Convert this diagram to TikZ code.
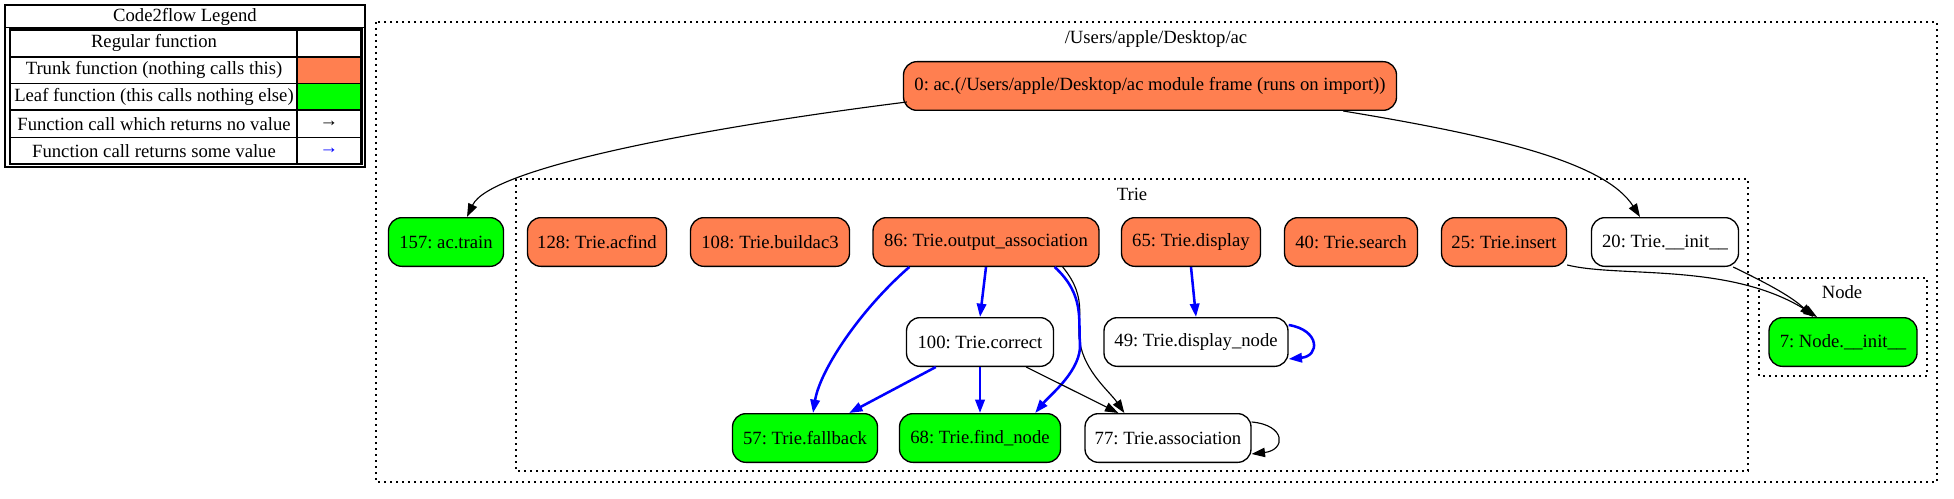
\documentclass[tikz,border=0pt]{standalone}
\usepackage{fontspec}
\setmainfont{Liberation Serif}
\usetikzlibrary{positioning, arrows.meta, calc}
\definecolor{trunk}{HTML}{FF7F50}
\definecolor{leaf}{HTML}{00FF00}
\tikzset{
  fnbox/.style={draw, line width=1pt, rounded corners=10pt, minimum height=36.5pt, inner sep=0pt},
  cluster/.style={draw, line width=1pt, dash pattern=on 1.2pt off 3.3pt},
  callnone/.style={line width=0.85pt, -{Triangle[length=10pt,width=7pt]}},
  callval/.style={line width=1.9pt, blue, -{Triangle[length=10pt,width=7pt]}}
}

\begin{document}
\begin{tikzpicture}[font=\fontsize{14}{16}\selectfont\frenchspacing, x=0.75pt, y=-0.75pt]
  \useasboundingbox (0,0) rectangle (1954,499);
  % legenda
  \fill[trunk] (297,57) rectangle (361,83.5);
  \fill[leaf] (297,83.5) rectangle (361,110);
  \draw[line width=1.6pt] (5,5) rectangle (365,167);
  \draw[line width=1pt] (5,27.5) -- (365,27.5);
  \draw[line width=1.6pt] (10,29.5) rectangle (361.5,164);
  \draw[line width=1pt] (297,29.5) -- (297,164);
  \foreach \yl in {57,83.5,110,137.5}
    \draw[line width=1pt] (10,\yl) -- (361.5,\yl);
  \node (lgtitle) at (185,17) {Code2flow Legend};
  \foreach \nm/\yc/\txt in {lgreg/43/Regular function,
    lgtrunk/70/Trunk function (nothing calls this),
    lgleaf/96.5/Leaf function (this calls nothing else),
    lgnone/124/Function call which returns no value,
    lgval/151/Function call returns some value}
  { \node (\nm) at (154,\yc) {\txt}; }
  \node (lgarnone) at (329,124) {→};
  \node[text=blue] (lgarval) at (329,151) {→};

  % grupos
  \draw[cluster] (376,22) rectangle (1937,482);
  \draw[cluster] (516,179) rectangle (1748,471);
  \draw[cluster] (1759,278) rectangle (1927,376);
  \node (lbac) at (1156,39) {/Users/apple/Desktop/ac};
  \node (lbtrie) at (1132,194) {Trie};
  \node (lbnode) at (1842,292) {Node};

  \node[fnbox, fill=trunk, minimum width=493*0.75pt] (n0) at (1150,86)
    {0: ac.(/Users/apple/Desktop/ac module frame (runs on import))};
  \foreach \nm/\xc/\yc/\bw/\cor/\txt in {
    n157/446/242/115/leaf/157: ac.train, n128/597/242/139/trunk/128: Trie.acfind,
    n108/770/242/159/trunk/108: Trie.buildac3, n86/986/242/226/trunk/86: Trie.output\_association,
    n65/1191/242/139/trunk/65: Trie.display, n40/1351/242/133/trunk/40: Trie.search,
    n25/1504/242/125/trunk/25: Trie.insert, n20/1665/242/147/white/20: Trie.\_\_init\_\_,
    n100/980/342/147/white/100: Trie.correct, n49/1196/342/184/white/49: Trie.display\_node,
    n7/1843/342/148/leaf/7: Node.\_\_init\_\_, n57/805/438/145/leaf/57: Trie.fallback,
    n68/980/438/161/leaf/68: Trie.find\_node, n77/1168/438/166/white/77: Trie.association}
  { \node[fnbox, fill=\cor, minimum width=\bw*0.75pt] (\nm) at (\xc,\yc) {\txt}; }

  % chamadas
  \draw[callnone] ($(n0.south west)+(4,-9)$) .. controls (700,128) and (490,168) .. ($(n157.north)+(21,0)$);
  \draw[callnone] ($(n0.south east)+(-54,0)$) .. controls (1495,136) and (1605,162) .. ($(n20.north)+(-25,0)$);
  \draw[callnone] ($(n86.south east)+(-37,0)$) .. controls (1090,300) and (1075,322) .. (1080,343)
    .. controls (1085,372) and (1110,392) .. ($(n77.north west)+(40,0)$);
  \draw[callval] ($(n86.south west)+(37,0)$) .. controls (860,310) and (820,370) .. ($(n57.north)+(8,0)$);
  \draw[callval] (n86.south) -- (n100.north);
  \draw[callval] ($(n86.south east)+(-45,0)$) .. controls (1085,295) and (1078,320) .. (1080,343)
    .. controls (1082,370) and (1050,395) .. ($(n68.north east)+(-26,0)$);
  \draw[callval] ($(n100.south west)+(30,0)$) -- ($(n57.north east)+(-29,0)$);
  \draw[callval] (n100.south) -- (n68.north);
  \draw[callnone] ($(n100.south east)+(-28,0)$) -- ($(n77.north west)+(34,0)$);
  \draw[callnone] ($(n77.north east)+(0,9)$) .. controls (1286,425) and (1286,450) .. ($(n77.south east)+(0,-9)$);
  \draw[callval] (n65.south) -- (n49.north);
  \draw[callval] ($(n49.north east)+(0,8)$) .. controls (1320,330) and (1320,356) .. ($(n49.south east)+(0,-8)$);
  \draw[callnone] ($(n25.south east)+(0,-2)$) .. controls (1620,278) and (1730,262) .. ($(n7.north)+(-26,0)$);
  \draw[callnone] ($(n20.south east)+(-6,0)$) .. controls (1760,280) and (1790,295) .. ($(n7.north)+(-30,0)$);
\end{tikzpicture}
\end{document}
